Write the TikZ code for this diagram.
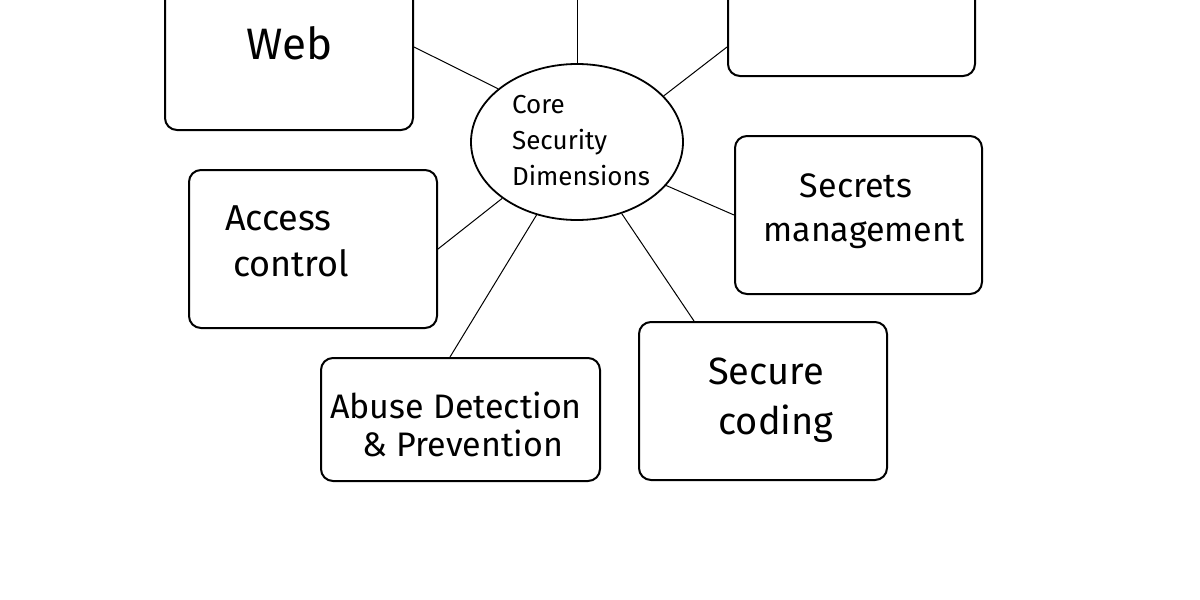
\documentclass[tikz,border=0pt]{standalone}
\usepackage{fontspec}
\setmainfont{Fira Sans}
\usetikzlibrary{shapes.geometric}
\begin{document}
\begin{tikzpicture}[x=0.5pt,y=-0.5pt,
  box/.style={draw,line width=1pt,rounded corners=6pt,inner sep=0pt},
  hub/.style={draw,ellipse,line width=0.9pt,minimum width=106pt,minimum height=78pt,inner sep=0pt},
  link/.style={line width=0.5pt},
  txt/.style={inner sep=0pt,align=center}]
\useasboundingbox (0,0) rectangle (1200,600);
\clip (0,0) rectangle (1200,600);
\fill[white] (0,0) rectangle (1200,600);
% boxes
\node[box,minimum width=124pt,minimum height=83pt] (web) at (289,47) {};
\node[box,minimum width=123.5pt,minimum height=68pt] (tr) at (851.5,8) {};
\node[box,minimum width=124pt,minimum height=79pt] (access) at (313,249) {};
\node[box,minimum width=123.5pt,minimum height=79pt] (secrets) at (858.5,215) {};
\node[box,minimum width=139.5pt,minimum height=61.5pt] (abuse) at (460.5,419.5) {};
\node[box,minimum width=124pt,minimum height=79pt] (secure) at (763,401) {};
\node[hub] (core) at (577,142) {};
\coordinate (topend) at (577,-5);
% texts
\node[txt,font=\fontsize{22}{26}\selectfont] (webt) at (290,43) {Web};
\node[txt,align=left,font=\fontsize{13}{18}\selectfont] (coret) at (581,141) {Core\\Security\\Dimensions};
\node[txt,align=left,font=\fontsize{18}{23}\selectfont] (accesst) at (287,241) {Access\\\hspace*{4pt}control};
\node[txt,font=\fontsize{17}{22}\selectfont] (secretst) at (864,211) {\hspace*{-8pt}Secrets\\management};
\node[txt,font=\fontsize{17}{19}\selectfont] (abuset) at (456,424) {Abuse Detection\\\hspace*{7pt}\& Prevention};
\node[txt,font=\fontsize{19}{25}\selectfont] (securet) at (766,400) {Secure\\\hspace*{10pt}coding};
% connectors
\draw[link] (core.north) -- (topend);
\draw[link] (core.146) -- (web.east);
\draw[link] (core.28) -- (tr.west |- 0,47);
\draw[link] (core.217) -- (access.east);
\draw[link] (core.334) -- (secrets.west);
\draw[link] (core.241) -- (abuse.north -| 450,0);
\draw[link] (core.302) -- (secure.north -| 694,0);
\end{tikzpicture}
\end{document}
